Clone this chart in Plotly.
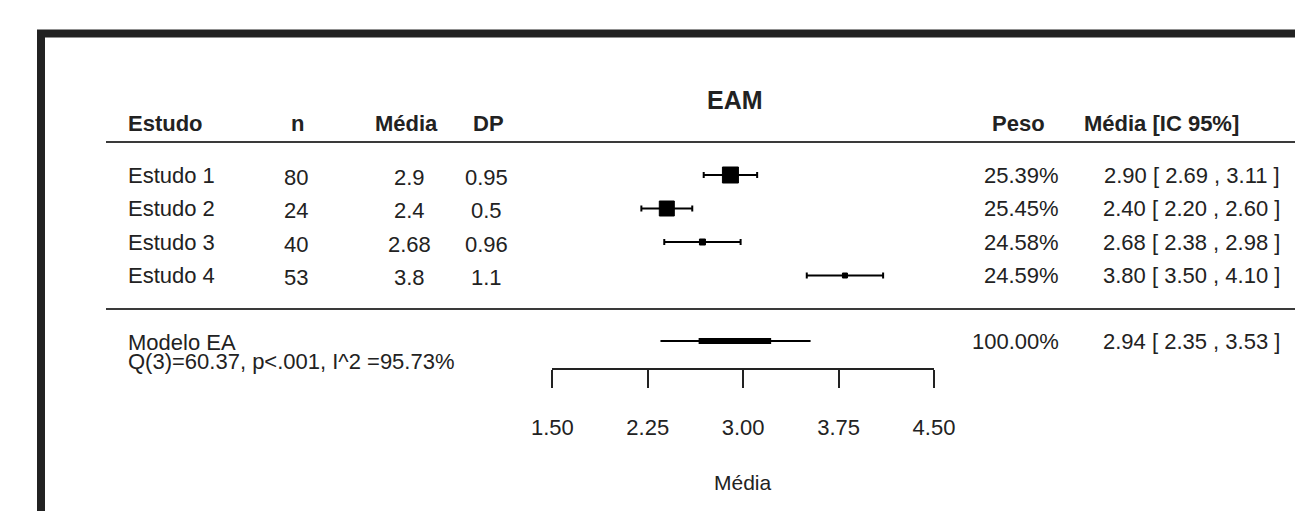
import plotly.graph_objects as go

# ---------------- data ----------------
studies = ["Estudo 1", "Estudo 2", "Estudo 3", "Estudo 4"]
n_obs = [80, 24, 40, 53]
means = [2.9, 2.4, 2.68, 3.8]
sds = [0.95, 0.5, 0.96, 1.1]
weights = [25.39, 25.45, 24.58, 24.59]
ci_lo = [2.69, 2.20, 2.38, 3.50]
ci_hi = [3.11, 2.60, 2.98, 4.10]
square_sizes = [16, 15, 6, 5]

summary_label = "Modelo EA"
summary_est = 2.94
summary_lo = 2.35
summary_hi = 3.53
summary_inner_lo = 2.65
summary_inner_hi = 3.22
summary_weight = 100.00
q_stat = 60.37
q_df = 3
i2 = 95.73

tick_vals = [1.50, 2.25, 3.00, 3.75, 4.50]
title_text = "EAM"
xlabel_text = "Média"
headers = ["Estudo", "n", "Média", "DP", "Peso", "Média [IC 95%]"]

# ---------------- layout helpers ----------------
W, H = 1295, 511
FONT = "Liberation Sans, Arial, sans-serif"
TXT = "#222222"
FS = 22

ROW0, ROWSTEP = 175.0, 33.5          # pixel of first row and row spacing


def r_of(p):                         # pixel -> row unit
    return (p - ROW0) / ROWSTEP


def px(xp):                          # pixel -> paper fraction
    return xp / W


rows = list(range(len(studies)))
r_header = r_of(123)
r_summary = r_of(341)
num_off = 2 / ROWSTEP

fig = go.Figure()

# study CIs + squares
fig.add_trace(go.Scatter(
    x=means, y=rows, mode="markers",
    marker=dict(symbol="square", size=square_sizes, color="black",
                opacity=1, line=dict(width=1, color="black")),
    error_x=dict(type="data", symmetric=False,
                 array=[h - m for h, m in zip(ci_hi, means)],
                 arrayminus=[m - l for m, l in zip(means, ci_lo)],
                 color="black", thickness=2, width=3),
    cliponaxis=False, hoverinfo="skip", showlegend=False))

# summary
fig.add_trace(go.Scatter(
    x=[summary_lo, summary_hi], y=[r_summary, r_summary], mode="lines",
    line=dict(color="black", width=2), cliponaxis=False,
    hoverinfo="skip", showlegend=False))
fig.add_trace(go.Scatter(
    x=[summary_inner_lo, summary_inner_hi], y=[r_summary, r_summary],
    mode="lines", line=dict(color="black", width=6), cliponaxis=False,
    hoverinfo="skip", showlegend=False))

ann = []


def text(x, y, s, anchor="left", bold=False, size=FS):
    ann.append(dict(x=px(x), xref="paper", y=y, yref="y", text=s,
                    showarrow=False, xanchor=anchor, yanchor="middle",
                    font=dict(family=FONT, size=size, color=TXT,
                              weight="bold" if bold else "normal")))


# headers
text(126, r_header, headers[0], "left", True)
text(297, r_header, headers[1], "center", True)
text(406, r_header, headers[2], "center", True)
text(488, r_header, headers[3], "center", True)
text(1018, r_header, headers[4], "center", True)
text(1082, r_header, headers[5], "left", True)
text(735, r_of(100), title_text, "center", True, size=25)

# study rows
for i, s in enumerate(studies):
    text(126, i, s, "left")
    text(296, i + num_off, str(n_obs[i]), "center")
    text(410, i + num_off, str(means[i]), "center")
    text(486, i + num_off, str(sds[i]), "center")
    text(1061, i, f"{weights[i]:.2f}%", "right")
    text(1282, i, f"{means[i]:.2f} [ {ci_lo[i]:.2f} , {ci_hi[i]:.2f} ]", "right")

# summary row
text(126, r_of(342), summary_label, "left")
text(126, r_of(361), f"Q({q_df})={q_stat:.2f}, p&lt;.001, I^2 ={i2:.2f}%", "left")
text(1061, r_summary, f"{summary_weight:.2f}%", "right")
text(1282, r_summary,
     f"{summary_est:.2f} [ {summary_lo:.2f} , {summary_hi:.2f} ]", "right")

# x label
text(743, r_of(482), xlabel_text, "center", size=21)

shapes = [
    # outer thick frame (left & top visible)
    dict(type="rect", xref="paper", yref="paper",
         x0=px(41), x1=px(1400), y0=1 - 33.5 / H, y1=-0.5,
         line=dict(color="#222222", width=8), fillcolor="rgba(0,0,0,0)"),
    # header rule
    dict(type="line", xref="paper", yref="y", x0=px(106), x1=px(1300),
         y0=r_of(142), y1=r_of(142), line=dict(color="#3a3a3a", width=2)),
    # separator rule
    dict(type="line", xref="paper", yref="y", x0=px(106), x1=px(1300),
         y0=r_of(309), y1=r_of(309), line=dict(color="#3a3a3a", width=2)),
]

fig.update_layout(
    width=W, height=H,
    margin=dict(l=0, r=0, t=0, b=0, pad=0, autoexpand=False),
    paper_bgcolor="white", plot_bgcolor="white",
    annotations=ann, shapes=shapes, showlegend=False,
    xaxis=dict(domain=[552.3 / W, 934.0 / W], range=[1.5, 4.5],
               anchor="free", position=1 - 369.3 / H, automargin=False,
               tickvals=tick_vals, tickformat=".2f",
               ticks="outside", ticklen=18, tickwidth=2, tickcolor="#222222",
               showline=True, linewidth=2, linecolor="#222222",
               showgrid=False, zeroline=False, ticklabelstandoff=20,
               tickfont=dict(family=FONT, size=FS, color=TXT)),
    yaxis=dict(domain=[0, 1], range=[r_of(H), r_of(0)], visible=False,
               automargin=False, showgrid=False, zeroline=False),
)

fig.write_html(
    "out.html",
    config={"displayModeBar": False, "staticPlot": True},
    post_script="document.body.style.margin='0';document.body.style.overflow='hidden';",
)
